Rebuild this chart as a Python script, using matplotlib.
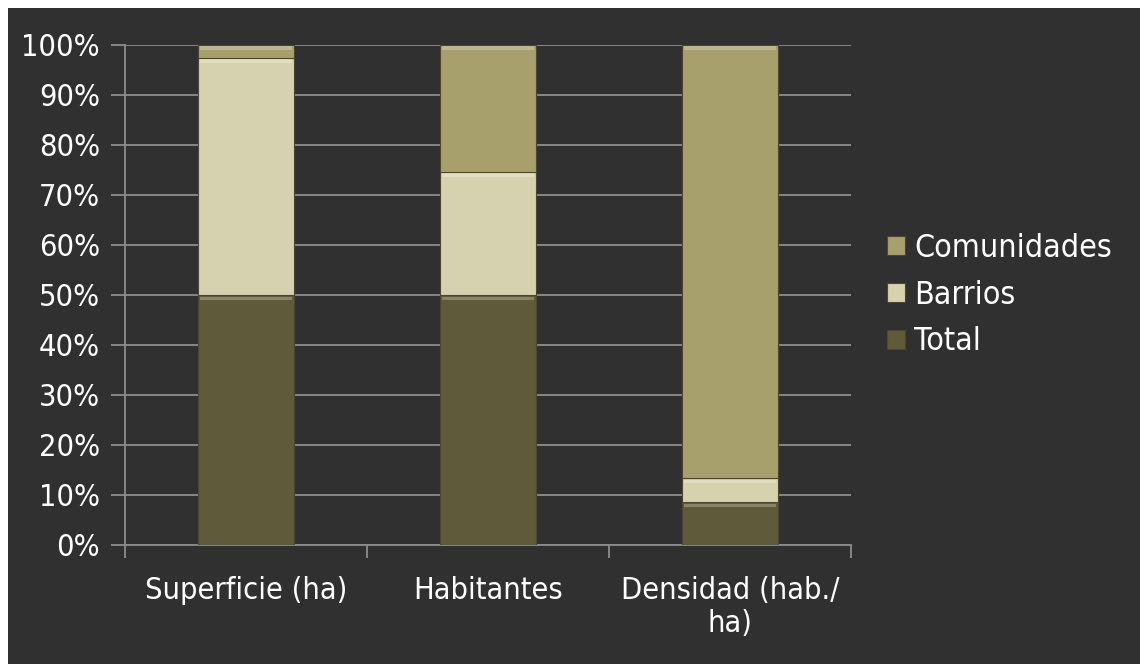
import matplotlib.pyplot as plt
from matplotlib.patches import Rectangle
import numpy as np

categories = ['Superficie (ha)', 'Habitantes', 'Densidad (hab./\nha)']
total = [50.0, 50.0, 8.6]
barrios = [47.4, 24.7, 4.8]
comunidades = [2.6, 25.3, 86.6]
series = [('Total', total, '#5e5a3a'),
          ('Barrios', barrios, '#d6d2b0'),
          ('Comunidades', comunidades, '#a8a06c')]
yticks = np.arange(0, 101, 10)

bg = '#303030'
grid = '#8c8c8c'
plt.rcParams['font.family'] = ['DejaVu Sans']

fig = plt.figure(figsize=(11.4, 6.64), dpi=100, facecolor='white')
fig.patches.append(Rectangle((8 / 1140, 0), 1, 1 - 8 / 664, transform=fig.transFigure,
                             facecolor=bg, edgecolor='none', zorder=-1))
ax = fig.add_axes([125 / 1140, 1 - 545 / 664, 726 / 1140, 500 / 664])
ax.set_facecolor(bg)

x = np.arange(len(categories))
bottom = np.zeros(len(categories))
handles = []
for name, vals, col in series:
    vals = np.array(vals)
    b = ax.bar(x, vals, 0.4, bottom=bottom, color=col, edgecolor='#4a4630',
               linewidth=0.8, zorder=3, label=name)
    # soft bevel near the top of each segment
    ax.bar(x, np.full(len(x), 0.7), 0.38, bottom=bottom + vals - 1.0,
           color='white', alpha=0.25, linewidth=0, zorder=4)
    handles.append(b)
    bottom += vals

ax.set_xlim(-0.5, len(categories) - 0.5)
ax.set_ylim(0, 100)
ax.set_yticks(yticks)
ax.set_yticklabels([f'{v}%' for v in yticks])
ax.yaxis.grid(True, color=grid, linewidth=1.3, zorder=0)
ax.set_xticks(x)
ax.set_xticklabels(categories)
ax.set_xticks(np.arange(-0.5, len(categories)), minor=True)
ax.tick_params(axis='x', which='major', length=0, pad=22, labelsize=22, labelcolor='white')
ax.tick_params(axis='x', which='minor', length=9, color=grid, width=1.3)
ax.tick_params(axis='y', length=10, color=grid, width=1.3, pad=8, labelsize=22,
               labelcolor='white')
for lab in ax.get_xticklabels() + ax.get_yticklabels():
    lab.set_fontstretch('condensed')
for s in ['top', 'right']:
    ax.spines[s].set_visible(False)
for s in ['left', 'bottom']:
    ax.spines[s].set_color(grid)
    ax.spines[s].set_linewidth(1.3)

leg = ax.legend(handles[::-1], [h.get_label() for h in handles[::-1]],
                loc='center left', bbox_to_anchor=(1.01, 0.5), frameon=False,
                fontsize=23, labelcolor='white', handlelength=0.55, handleheight=0.55,
                handletextpad=0.3, labelspacing=0.5)
for t in leg.get_texts():
    t.set_fontstretch('condensed')

fig.savefig('out.png', dpi=100, facecolor='white')
